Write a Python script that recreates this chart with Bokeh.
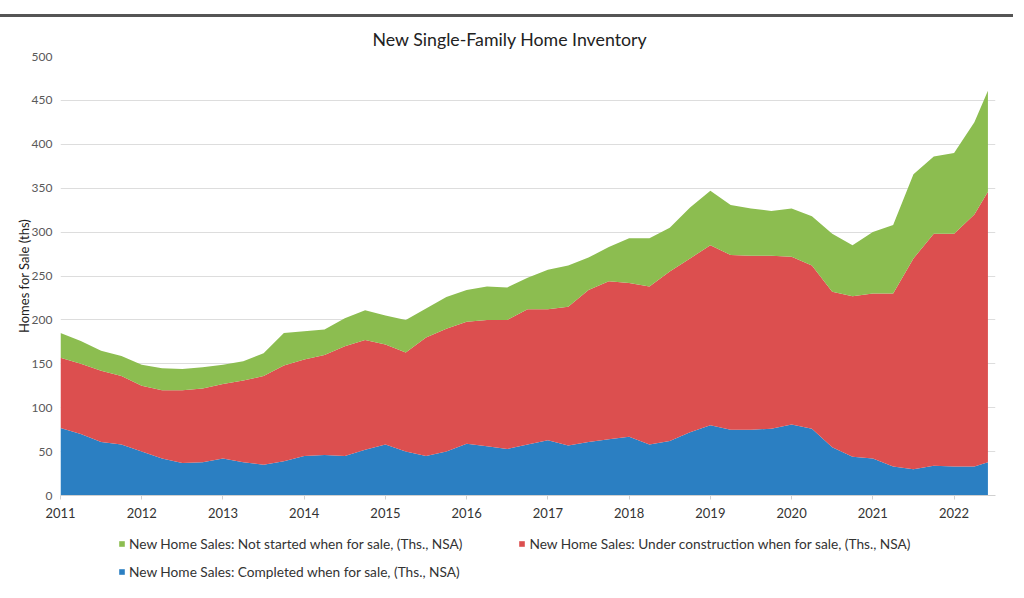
from bokeh.plotting import figure
from bokeh.models import ColumnDataSource, Legend, LegendItem, FixedTicker, Range1d, Div
from bokeh.layouts import column
from bokeh.embed import file_html
from bokeh.resources import INLINE

# quarterly reading points (fractional years), last point = mid 2022
x_years = [2011 + 0.25 * k for k in range(46)] + [2022 + 5 / 12]

total_top = [185, 176, 165, 159, 149, 145, 144, 146, 149, 153, 162, 185, 187, 189, 202, 211,
             205, 200, 213, 226, 234, 238, 237, 248, 257, 262, 271, 283, 293, 293, 305, 328,
             347, 331, 327, 324, 327, 318, 298, 285, 300, 308, 366, 386, 390, 425, 461]
under_top = [157, 150, 142, 136, 125, 120, 120, 122, 127, 131, 136, 148, 155, 160, 170, 177,
             172, 163, 180, 190, 198, 200, 200, 212, 212, 215, 234, 244, 242, 238, 255, 270,
             285, 274, 273, 273, 272, 262, 232, 227, 230, 230, 270, 298, 298, 320, 346]
completed = [77, 70, 61, 58, 50, 42, 37, 38, 42, 38, 35, 39, 45, 46, 45, 52,
             58, 50, 45, 50, 59, 56, 53, 58, 63, 57, 61, 64, 67, 58, 62, 72,
             80, 75, 75, 76, 81, 76, 55, 44, 42, 33, 30, 34, 33, 33, 38]

under_construction = [u - c for u, c in zip(under_top, completed)]
not_started = [t - u for t, u in zip(total_top, under_top)]

year_ticks = list(range(2011, 2023))
y_ticks = list(range(0, 501, 50))

title_text = "New Single-Family Home Inventory"
y_label = "Homes for Sale (ths)"
labels = {
    "not_started": "New Home Sales: Not started when for sale, (Ths., NSA)",
    "under": "New Home Sales: Under construction when for sale, (Ths., NSA)",
    "completed": "New Home Sales: Completed when for sale, (Ths., NSA)",
}
colors = {"completed": "#2B7FC2", "under": "#DC4F4F", "not_started": "#8CBD50"}

source = ColumnDataSource(dict(x=x_years, completed=completed,
                               under=under_construction, not_started=not_started))

FONT = "Lato"

p = figure(width=1008, height=514, output_backend="svg", toolbar_location=None,
           x_range=Range1d(2011, 2022.51), y_range=Range1d(0, 500),
           min_border_left=60, min_border_right=13, min_border_top=38, min_border_bottom=37,
           title=title_text)
p.title.align = "left"
p.title.vertical_align = "top"
p.title.offset = 312
p.title.text_font = FONT
p.title.text_font_size = "17.75px"
p.title.text_font_style = "normal"
p.title.text_color = "#222222"
p.title.standoff = 10

rs = p.varea_stack(stackers=["completed", "under", "not_started"], x="x",
                   color=[colors["completed"], colors["under"], colors["not_started"]],
                   source=source)

p.outline_line_color = None
p.xgrid.grid_line_color = None
p.ygrid.grid_line_color = "#DDDDDD"
p.ygrid.grid_line_width = 1
p.yaxis.ticker = FixedTicker(ticks=y_ticks)
p.xaxis.ticker = FixedTicker(ticks=year_ticks)

p.yaxis.axis_line_color = None
p.yaxis.major_tick_line_color = None
p.yaxis.minor_tick_line_color = None
p.yaxis.major_label_text_font = FONT
p.yaxis.major_label_text_font_size = "12px"
p.yaxis.major_label_text_color = "#595959"
p.yaxis.major_label_standoff = 2
p.yaxis.axis_label = y_label
p.yaxis.axis_label_text_font = FONT
p.yaxis.axis_label_text_font_size = "13px"
p.yaxis.axis_label_text_font_style = "normal"
p.yaxis.axis_label_text_color = "#222222"
p.yaxis.axis_label_standoff = -3

p.xaxis.axis_line_color = "#D0D0D0"
p.xaxis.major_tick_line_color = "#D0D0D0"
p.xaxis.major_tick_out = 4
p.xaxis.major_tick_in = 0
p.xaxis.minor_tick_line_color = None
p.xaxis.major_label_text_font = FONT
p.xaxis.major_label_text_font_size = "13px"
p.xaxis.major_label_text_color = "#333333"
p.xaxis.major_label_standoff = 8

# legend panel (separate canvas so the legend is not clipped by the plot frame)
lf = figure(width=1008, height=54, output_backend="svg", toolbar_location=None,
            x_range=Range1d(0, 1), y_range=Range1d(0, 1),
            min_border_left=0, min_border_right=0, min_border_top=0, min_border_bottom=0)
lf.axis.visible = False
lf.grid.visible = False
lf.outline_line_color = None
nan = float("nan")
proxy = {k: lf.varea(x=[nan], y1=[nan], y2=[nan], color=colors[k]) for k in colors}


def make_legend(items, loc):
    lg = Legend(items=items, orientation="horizontal", location=loc)
    lg.label_text_font = FONT
    lg.label_text_font_size = "13.7px"
    lg.label_text_color = "#333333"
    lg.glyph_width = 7
    lg.glyph_height = 7
    lg.label_standoff = 4
    lg.spacing = 56
    lg.padding = 2
    lg.margin = 0
    lg.border_line_color = None
    lg.background_fill_alpha = 0
    return lg


legend1 = make_legend([
    LegendItem(label=labels["not_started"], renderers=[proxy["not_started"]]),
    LegendItem(label=labels["under"], renderers=[proxy["under"]]),
], (58, 34))
legend2 = make_legend([
    LegendItem(label=labels["completed"], renderers=[proxy["completed"]]),
], (58, 6))
lf.add_layout(legend1, "center")
lf.add_layout(legend2, "center")

top_line = Div(width=1008, height=8,
               text='<div style="height:3px;background:#555555;width:1014px;margin-left:-6px"></div>')
layout = column(top_line, p, lf, spacing=0)

open("out.html", "w").write(file_html(layout, INLINE))
